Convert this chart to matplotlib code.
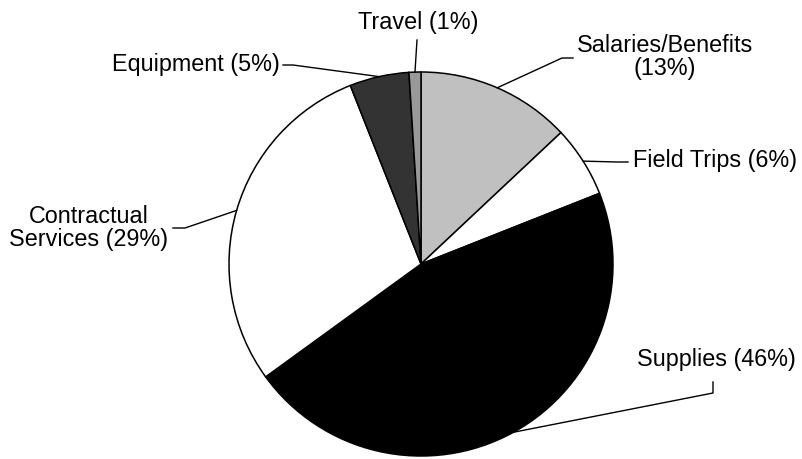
import numpy as np
import matplotlib
matplotlib.use("Agg")
import matplotlib.pyplot as plt

categories = ["Salaries/Benefits", "Field Trips", "Supplies", "Contractual Services", "Equipment", "Travel"]
values = [13, 6, 46, 29, 5, 1]
labels = ["Salaries/Benefits\n(13%)", "Field Trips (6%)", "Supplies (46%)",
          "Contractual\nServices (29%)", "Equipment (5%)", "Travel (1%)"]
colors = ["#c0c0c0", "#ffffff", "#000000", "#ffffff", "#333333", "#999999"]

W, H = 803, 459
fig = plt.figure(figsize=(W / 100, H / 100), dpi=100)
ax = fig.add_axes([0, 0, 1, 1])
ax.set_xlim(0, W)
ax.set_ylim(0, H)
ax.set_aspect("equal")
ax.axis("off")

def py(y):
    return H - y

cx, cy, R = 421, py(264), 192
wedges, _ = ax.pie(values, colors=colors, startangle=90, counterclock=False,
                   center=(cx, cy), radius=R, frame=True,
                   wedgeprops=dict(edgecolor="black", linewidth=1.1))
ax.set_xlim(0, W)
ax.set_ylim(0, H)
ax.axis("off")

# label layout: (elbow points in pixel coords, text pos, ha)
layout = [
    ([(562, 58), (573, 58)], (665, 57), "center"),
    ([(617, 162), (628, 162)], (633, 160), "left"),
    ([(713, 393), (713, 382)], (716, 360), "center"),
    ([(185, 228), (173, 228)], (89, 228), "center"),
    ([(293, 65), (283, 65)], (280, 64), "right"),
    ([(417, 40)], (418, 22), "center"),
]

font = dict(family=["Liberation Sans", "DejaVu Sans"], size=16.8)
for w, lab, (pts, tpos, ha) in zip(wedges, labels, layout):
    ang = np.deg2rad((w.theta1 + w.theta2) / 2)
    sx, sy = cx + R * np.cos(ang), cy + R * np.sin(ang)
    xs = [sx] + [p[0] for p in pts]
    ys = [sy] + [py(p[1]) for p in pts]
    ax.plot(xs, ys, color="black", linewidth=1.0)
    ax.text(tpos[0], py(tpos[1]), lab, ha=ha, va="center", multialignment="center",
            linespacing=1.05, **font)

fig.savefig("out.png", dpi=100)
